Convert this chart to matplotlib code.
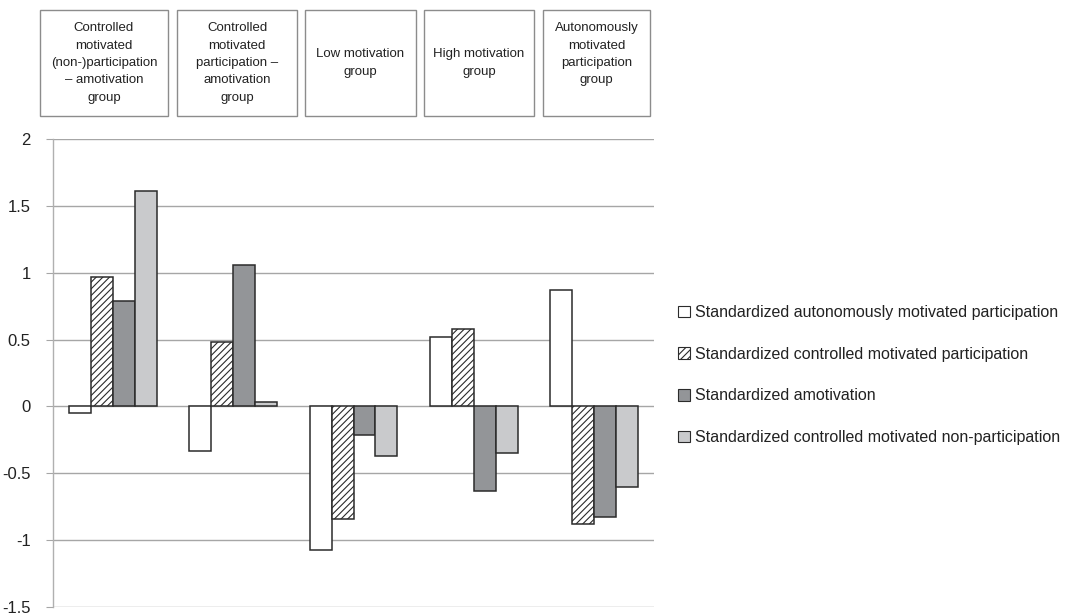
import numpy as np
import matplotlib
matplotlib.use('Agg')
import matplotlib.pyplot as plt
from matplotlib.patches import Rectangle, Patch

plt.rcParams['font.family'] = ['Liberation Sans', 'DejaVu Sans']
plt.rcParams['axes.unicode_minus'] = False
plt.rcParams['hatch.linewidth'] = 0.8

groups = ['Controlled\nmotivated\n(non-)participation\n– amotivation\ngroup',
          'Controlled\nmotivated\nparticipation –\namotivation\ngroup',
          'Low motivation\ngroup',
          'High motivation\ngroup',
          'Autonomously\nmotivated\nparticipation\ngroup\n']

series = ['Standardized autonomously motivated participation',
          'Standardized controlled motivated participation',
          'Standardized amotivation',
          'Standardized controlled motivated non-participation']

autonomous = [-0.05, -0.33, -1.07, 0.52, 0.87]
controlled = [0.97, 0.48, -0.84, 0.58, -0.88]
amotivation = [0.79, 1.06, -0.21, -0.63, -0.83]
non_participation = [1.61, 0.03, -0.37, -0.35, -0.60]

yticks = [-1.5, -1, -0.5, 0, 0.5, 1, 1.5, 2]
ytick_labels = ['-1.5', '-1', '-0.5', '0', '0.5', '1', '1.5', '2']

W, H = 1072, 615
fig = plt.figure(figsize=(W / 100, H / 100), dpi=100)
ax = fig.add_axes([53 / W, 1 - 607 / H, (654 - 53) / W, (607 - 139) / H])

x = np.arange(len(groups))
bw = 0.183
styles = [dict(facecolor='white'),
          dict(facecolor='white', hatch='/////'),
          dict(facecolor='#939598'),
          dict(facecolor='#c9cacc')]
data = [autonomous, controlled, amotivation, non_participation]
for i, (vals, st) in enumerate(zip(data, styles)):
    ax.bar(x + (i - 1.5) * bw, vals, bw, edgecolor='#2b2b2b', linewidth=1.1,
           zorder=3, **st)

ax.set_xlim(-0.5, 4.5)
ax.set_ylim(-1.5, 2)
ax.set_yticks(yticks)
ax.set_yticklabels(ytick_labels, fontsize=12, color='#222222')
ax.set_xticks([])
ax.grid(axis='y', color='#a6a6a6', linewidth=1, zorder=0)
ax.tick_params(axis='y', length=5, color='#a6a6a6', pad=11)
for s in ['top', 'right', 'bottom']:
    ax.spines[s].set_visible(False)
ax.spines['left'].set_color('#b0b0b0')
ax.spines['left'].set_linewidth(1)

# category boxes above the plot
box_x = [(40, 168), (177, 297), (305, 416), (424, 534), (543, 650)]
for (x0, x1), label in zip(box_x, groups):
    fig.patches.append(Rectangle((x0 / W, 1 - 116 / H), (x1 - x0) / W, 106 / H,
                                 transform=fig.transFigure, facecolor='white',
                                 edgecolor='#8c8c8c', linewidth=1))
    fig.text((x0 + x1) / 2 / W, 1 - 63 / H, label, ha='center', va='center',
             fontsize=9.5, linespacing=1.6, color='#222222')

handles = [Patch(edgecolor='#2b2b2b', linewidth=0.8, **st) for st in styles]
fig.legend(handles, series, loc='center left', bbox_to_anchor=(664 / W, 1 - 375 / H),
           frameon=False, fontsize=11.5, handlelength=0.75, handleheight=0.75,
           handletextpad=0.3, labelspacing=1.67, labelcolor='#222222')

fig.savefig('out.png', dpi=100)
